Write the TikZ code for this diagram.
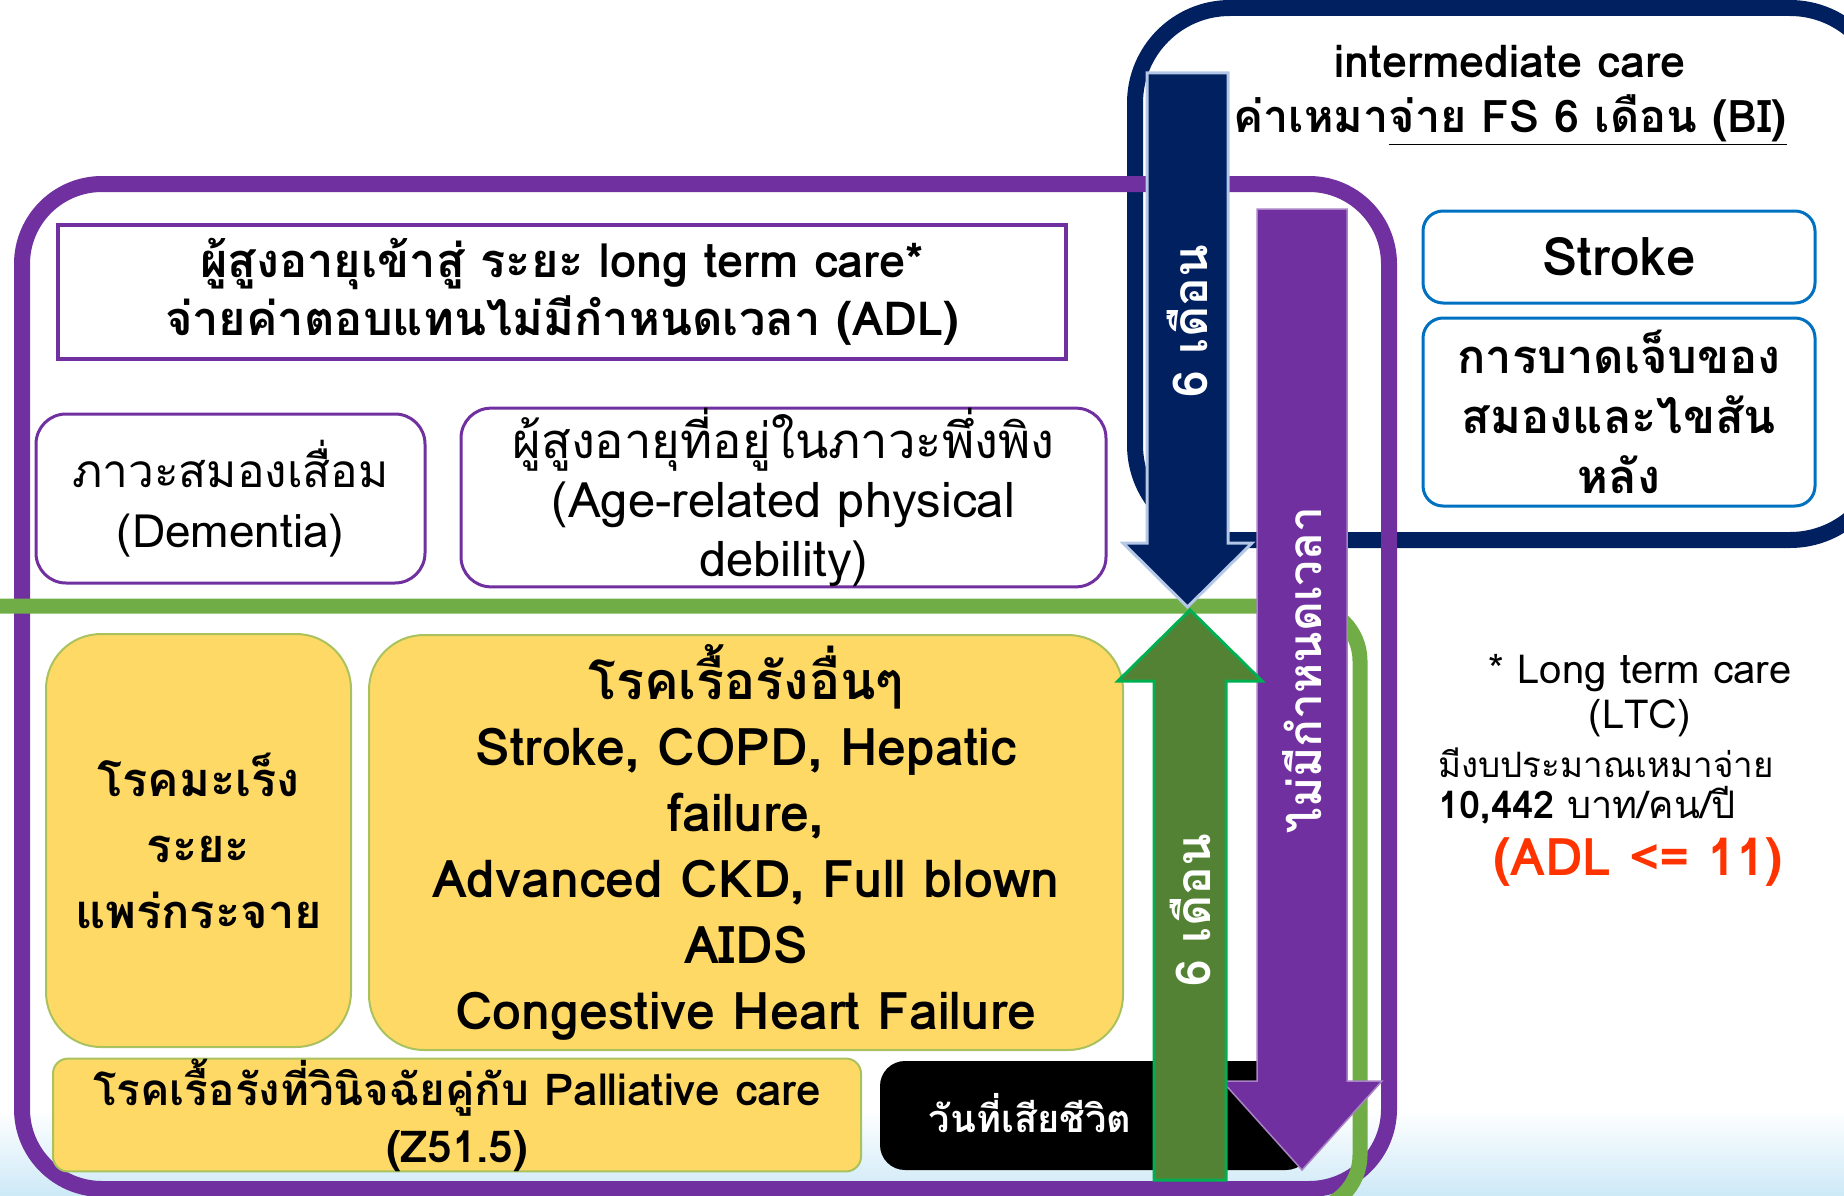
\documentclass[tikz,border=0pt]{standalone}
\usepackage{fontspec}
\setmainfont{Loma}[Script=Thai]
\definecolor{ltcpurple}{HTML}{7030A0}
\definecolor{icnavy}{HTML}{002060}
\definecolor{icedge}{HTML}{B4C7E7}
\definecolor{lifegreen}{HTML}{70AD47}
\definecolor{arrgreen}{HTML}{548235}
\definecolor{arredge}{HTML}{00B050}
\definecolor{sickyellow}{HTML}{FFD966}
\definecolor{sickedge}{HTML}{A9C25D}
\definecolor{strokeblue}{HTML}{0070C0}
\definecolor{adlred}{HTML}{FF3300}
\definecolor{wave}{HTML}{CDE9F7}
\newcommand\fsz[2]{\fontsize{#1}{#2}\selectfont}
\tikzset{
  ltcbox/.style={draw=ltcpurple, line width=3pt, rounded corners=30pt, align=center, inner sep=0pt},
  sickbox/.style={fill=sickyellow, draw=sickedge, line width=2pt, align=center, inner sep=0pt, font=\bfseries\fsz{47}{66}},
  icbox/.style={draw=strokeblue, line width=3pt, rounded corners=20pt, align=center, inner sep=0pt, font=\bfseries\fsz{47}{60}},
  monthtext/.style={text=white, font=\bfseries\fsz{48}{52}, rotate=90},
  notetext/.style={font=\fsz{40}{45}, inner sep=0pt},
}

\begin{document}
\begin{tikzpicture}[x=1pt,y=-1pt]
\useasboundingbox (0,0) rectangle (1844,1196);
\clip (0,0) rectangle (1844,1196);
\shade[top color=white, bottom color=wave] (0,1110) rectangle (1844,1196);
\draw[icnavy, line width=16pt, rounded corners=95pt] (1135,8) rectangle (1885,540);
\draw[ltcpurple, line width=16pt, rounded corners=80pt] (22,184) rectangle (1389,1189);
\draw[lifegreen, line width=15pt, rounded corners=55pt] (-60,606) rectangle (1360,1210);

\node[draw=ltcpurple, line width=4pt, minimum width=1008pt, minimum height=134pt, align=center, font=\bfseries\fsz{47}{58}] (ltc) at (562,292) {ผู้สูงอายุเข้าสู่ ระยะ long term care*\\จ่ายค่าตอบแทนไม่มีกำหนดเวลา (ADL)};
\node[ltcbox, minimum width=389pt, minimum height=169pt, font=\fsz{46}{60}] (dementia) at (230.5,498.5) {ภาวะสมองเสื่อม\\(Dementia)};
\node[ltcbox, minimum width=645pt, minimum height=171pt, font=\fsz{49}{59}] (frail) at (783.5,497.5) {ผู้สูงอายุที่อยู่ในภาวะพึ่งพิง\\(Age-related physical\\debility)};
\node[sickbox, rounded corners=55pt, minimum width=305pt, minimum height=413pt] (cancer) at (198.5,840.5) {โรคมะเร็ง\\ระยะ\\แพร่กระจาย};
\node[sickbox, rounded corners=55pt, minimum width=754pt, minimum height=415pt, font=\bfseries\fsz{52}{66}] (chronic) at (746,842.5) {โรคเรื้อรังอื่นๆ\\Stroke, COPD, Hepatic\\failure,\\Advanced CKD, Full blown\\AIDS\\Congestive Heart Failure};
\node[sickbox, rounded corners=15pt, minimum width=808pt, minimum height=104pt, font=\bfseries\fsz{44}{57}] (palliative) at (457,1115) {โรคเรื้อรังที่วินิจฉัยคู่กับ Palliative care\\(Z51.5)};
\node[fill=black, rounded corners=25pt, minimum width=431pt, minimum height=109pt] (death) at (1095.5,1115.5) {};
\node[text=white, font=\bfseries\fsz{38}{46}] (deathtext) at (1030,1113) {วันที่เสียชีวิต};

\filldraw[fill=ltcpurple, draw=ltcpurple!60, line width=1.5pt] (1257,209) -- (1347,209) -- (1347,1081) -- (1382,1081) -- (1302,1170) -- (1222,1081) -- (1257,1081) -- cycle;
\filldraw[fill=arrgreen, draw=arredge, line width=3pt] (1154,1180) -- (1154,681) -- (1118,681) -- (1190,610) -- (1262,681) -- (1226,681) -- (1226,1180) -- cycle;
\filldraw[fill=icnavy, draw=icedge, line width=3pt] (1147,73) -- (1228,73) -- (1228,543) -- (1252,543) -- (1187.5,607) -- (1123,543) -- (1147,543) -- cycle;
\node[monthtext] (navymonths) at (1187,321) {6 เดือน};
\node[monthtext, font=\bfseries\fsz{46}{50}] (nolimit) at (1302,670) {ไม่มีกำหนดเวลา};
\node[monthtext] (greenmonths) at (1190,910) {6 เดือน};

\node[font=\bfseries\fsz{45}{55}, align=center] (ictitle) at (1510,95) {intermediate care\\ค่าเหมา\underline{จ่าย FS 6 เดือน (BI)}};
\node[icbox, minimum width=392pt, minimum height=92pt, font=\bfseries\fsz{53}{60}] (stroke) at (1619,257) {Stroke};
\node[icbox, minimum width=392pt, minimum height=188pt] (injury) at (1619,412) {การบาดเจ็บของ\\สมองและไขสัน\\หลัง};

\node[notetext] (note1) at (1640,673) {* Long term care};
\node[notetext] (note2) at (1640,718) {(LTC)};
\node[notetext, anchor=west, font=\fsz{35}{45}] (note3) at (1438,763) {มีงบประมาณเหมาจ่าย};
\node[notetext, anchor=west, font=\fsz{38}{45}] (note4) at (1438,805) {\textbf{10,442} บาท/คน/ปี};
\node[font=\bfseries\fsz{52}{60}, text=adlred] (adl) at (1638,862) {(ADL <= 11)};
\end{tikzpicture}
\end{document}
